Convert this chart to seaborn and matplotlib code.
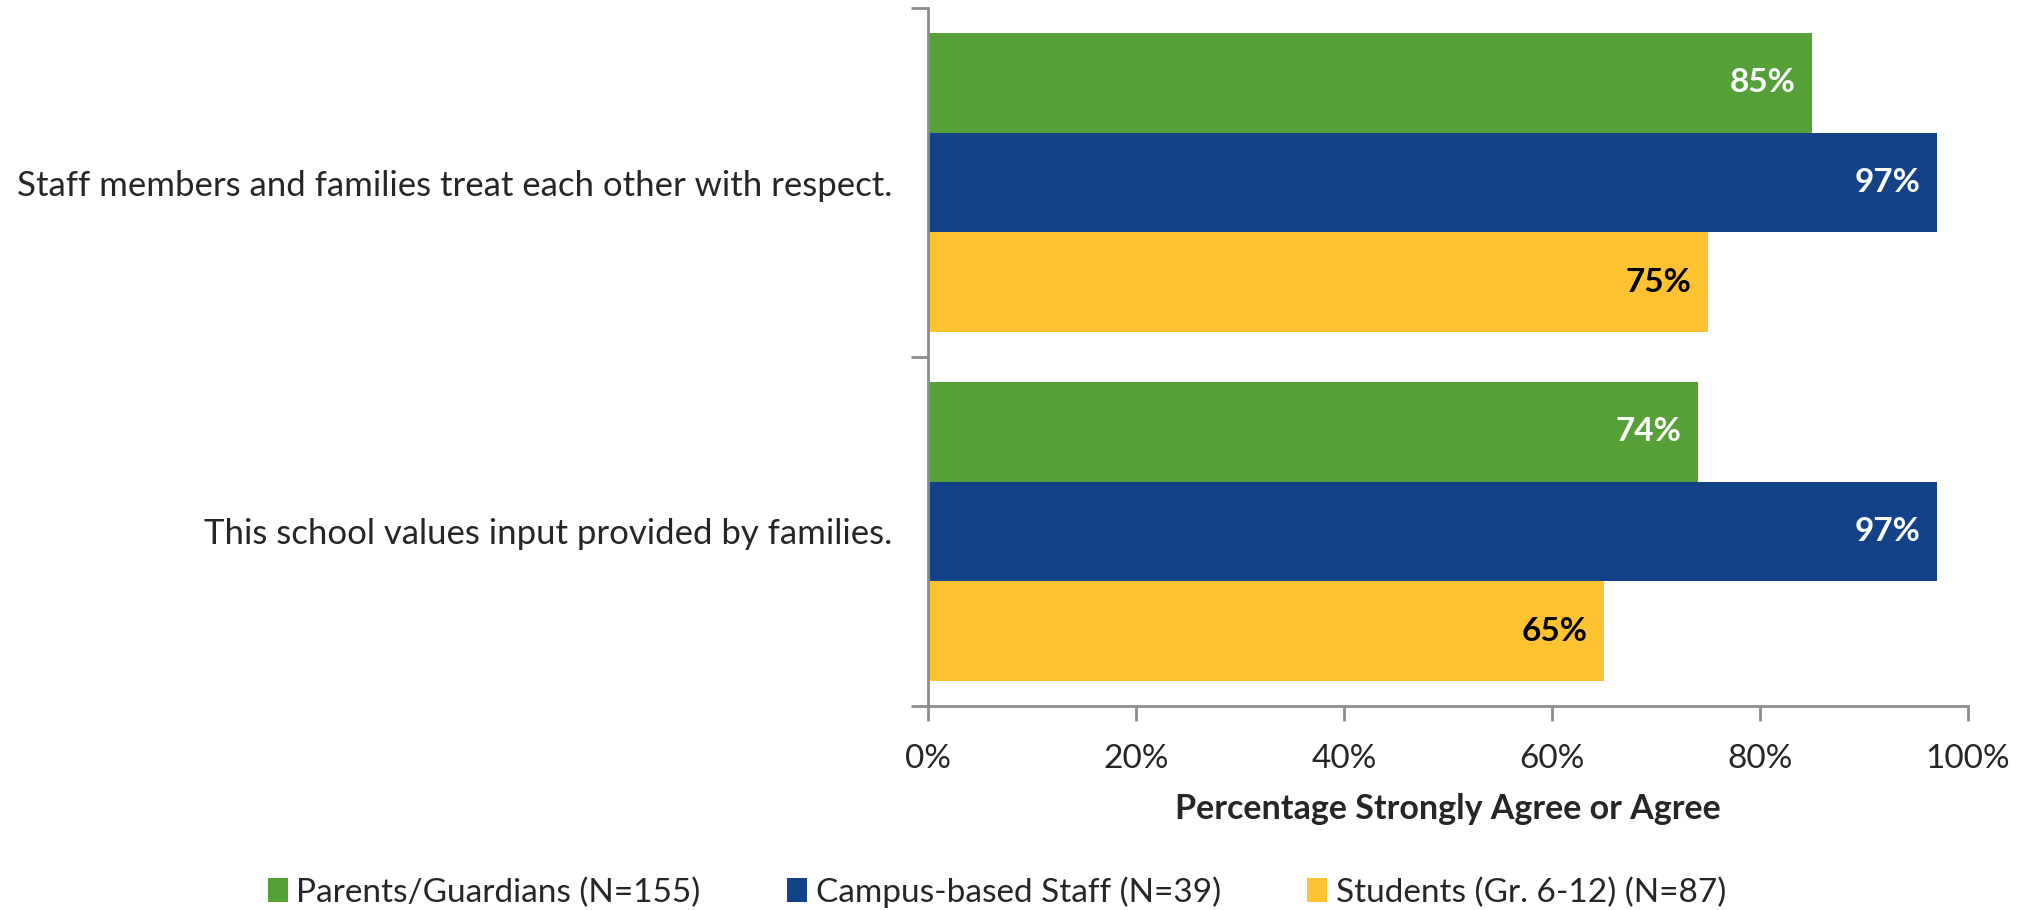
import matplotlib
matplotlib.use("Agg")
import matplotlib.pyplot as plt
from matplotlib.patches import Patch
from matplotlib.ticker import FixedLocator, PercentFormatter
import seaborn as sns
import pandas as pd

# Survey items and respondent groups
statements = [
    "Staff members and families treat each other with respect.",
    "This school values input provided by families.",
]
groups = [
    "Parents/Guardians (N=155)",
    "Campus-based Staff (N=39)",
    "Students (Gr. 6-12) (N=87)",
]
parents = [85, 74]
staff = [97, 97]
students = [75, 65]

colors = ["#55A138", "#134289", "#FFC231"]
label_colors = ["white", "white", "black"]

rows = []
for g, vals in zip(groups, [parents, staff, students]):
    for s, v in zip(statements, vals):
        rows.append({"Statement": s, "Group": g, "Value": v})
df = pd.DataFrame(rows)

sns.set_theme(style="white")
plt.rcParams["font.family"] = ["Lato", "DejaVu Sans"]

fig = plt.figure(figsize=(20.33, 9.10), dpi=100)
ax = fig.add_axes([928 / 2033, 1 - 706 / 910, 1040 / 2033, 698 / 910])

sns.barplot(
    data=df, y="Statement", x="Value", hue="Group",
    order=statements, hue_order=groups, palette=colors,
    orient="h", width=0.857, gap=0, saturation=1, ax=ax, legend=False,
    edgecolor="none",
)

# value labels inside the bar ends
for container, tc in zip(ax.containers, label_colors):
    texts = ax.bar_label(container, labels=[f"{v:.0f}%" for v in container.datavalues],
                         label_type="edge", padding=-12,
                         color=tc, fontsize=24, fontweight="bold")
    for t in texts:
        t.set_ha("right")

ax.set_xlim(0, 100)
ax.set_ylim(1.5, -0.5)
ax.xaxis.set_major_locator(FixedLocator([0, 20, 40, 60, 80, 100]))
ax.xaxis.set_major_formatter(PercentFormatter(decimals=0))

# category ticks at band boundaries, labels centred on each band
ax.set_yticks([0, 1])
ax.set_yticklabels(statements, fontsize=25)
ax.set_yticks([-0.5, 0.5, 1.5], minor=True)
ax.tick_params(axis="y", which="major", length=0, pad=26)
ax.tick_params(axis="y", which="minor", length=12, width=2, color="#8c8c8c", direction="out", left=True)
ax.tick_params(axis="x", which="major", length=11, width=2, color="#8c8c8c",
               direction="out", labelsize=24, pad=16, bottom=True)

for side in ["top", "right"]:
    ax.spines[side].set_visible(False)
for side in ["left", "bottom"]:
    ax.spines[side].set_color("#8c8c8c")
    ax.spines[side].set_linewidth(2)

ax.set_ylabel("")
ax.set_xlabel("Percentage Strongly Agree or Agree", fontsize=24.5,
              fontweight="bold", labelpad=14)

handles = [Patch(facecolor=c, edgecolor="none") for c in colors]
fig.legend(handles, groups, loc="center", bbox_to_anchor=(997 / 2033, 1 - 892 / 910),
           ncol=3, frameon=False, fontsize=24, handlelength=0.6, handleheight=0.7,
           handletextpad=0.25, columnspacing=2.6)

fig.savefig("out.png", dpi=100)
